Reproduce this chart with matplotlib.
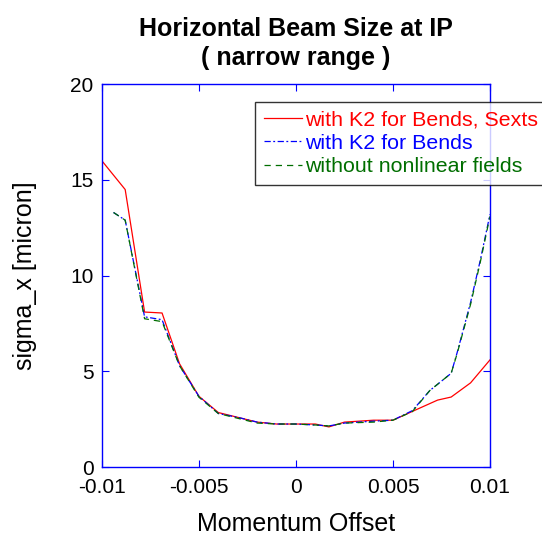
import matplotlib
matplotlib.use("Agg")
import matplotlib.pyplot as plt

plt.rcParams['font.family'] = ['Liberation Sans', 'DejaVu Sans']

# momentum offset samples
x_red = [-0.01, -0.0088, -0.0078, -0.0069, -0.006, -0.005, -0.004, -0.003, -0.002,
         -0.001, 0.0, 0.001, 0.0017, 0.0025, 0.004, 0.005, 0.0062, 0.0073, 0.008,
         0.009, 0.01]
y_red = [16.0, 14.5, 8.1, 8.05, 5.4, 3.7, 2.85, 2.6, 2.35,
         2.25, 2.25, 2.25, 2.1, 2.35, 2.45, 2.45, 3.0, 3.5, 3.66,
         4.4, 5.6]

x_blue = [-0.0094, -0.0088, -0.0078, -0.0069, -0.006, -0.005, -0.004, -0.003, -0.002,
          -0.001, 0.0, 0.001, 0.0017, 0.0025, 0.004, 0.005, 0.006, 0.0069, 0.008,
          0.0083, 0.009, 0.0095, 0.01]
y_blue = [13.3, 12.9, 7.85, 7.7, 5.3, 3.7, 2.8, 2.6, 2.35,
          2.25, 2.25, 2.2, 2.15, 2.3, 2.4, 2.45, 2.95, 4.0, 4.9,
          5.95, 8.6, 10.8, 13.2]
y_green = [13.3, 12.9, 7.75, 7.6, 5.3, 3.65, 2.8, 2.55, 2.3,
           2.25, 2.25, 2.2, 2.15, 2.3, 2.35, 2.45, 2.9, 4.0, 4.9,
           5.9, 8.5, 10.7, 13.1]

labels = ["with K2 for Bends, Sexts", "with K2 for Bends", "without nonlinear fields"]
colors = ["#ff0000", "#0000ff", "#006e00"]

fig = plt.figure(figsize=(5.42, 5.40), dpi=100)
ax = fig.add_axes([0.188, 0.135, 0.716, 0.709])

ax.plot(x_red, y_red, color=colors[0], lw=0.9, ls='-', label=labels[0])
ax.plot(x_blue, y_blue, color=colors[1], lw=0.9, ls=(0, (5, 2, 1.5, 2)), label=labels[1])
ax.plot(x_blue, y_green, color=colors[2], lw=0.9, ls=(0, (5, 4)), label=labels[2])

ax.set_xlim(-0.01, 0.01)
ax.set_ylim(0, 20)
ax.set_xticks([-0.01, -0.005, 0, 0.005, 0.01])
ax.set_xticklabels(["-0.01", "-0.005", "0", "0.005", "0.01"])
ax.set_yticks([0, 5, 10, 15, 20])

for s in ax.spines.values():
    s.set_color('#0000ff')
    s.set_linewidth(1.0)
ax.tick_params(direction='in', colors='#0000ff', labelcolor='black', labelsize=15,
               length=5, top=True, right=True)
ax.tick_params(axis='x', pad=8)
ax.tick_params(axis='y', pad=6)

ax.set_xlabel("Momentum Offset", fontsize=18, labelpad=11)
ax.set_ylabel("sigma_x [micron]", fontsize=18, labelpad=24)
ax.set_title("Horizontal Beam Size at IP\n( narrow range )", fontsize=18,
             fontweight='bold', pad=14, linespacing=1.25)

leg = ax.legend(loc='upper left', bbox_to_anchor=(255/542, 1 - 102/540),
                bbox_transform=fig.transFigure, fontsize=15.4, frameon=True,
                fancybox=False, handlelength=1.8, handletextpad=0.15,
                labelspacing=0.2, borderpad=0.4, borderaxespad=0)
leg.get_frame().set_edgecolor('black')
leg.get_frame().set_linewidth(1.0)
for txt, c in zip(leg.get_texts(), colors):
    txt.set_color(c)

fig.savefig("out.png", dpi=100)
